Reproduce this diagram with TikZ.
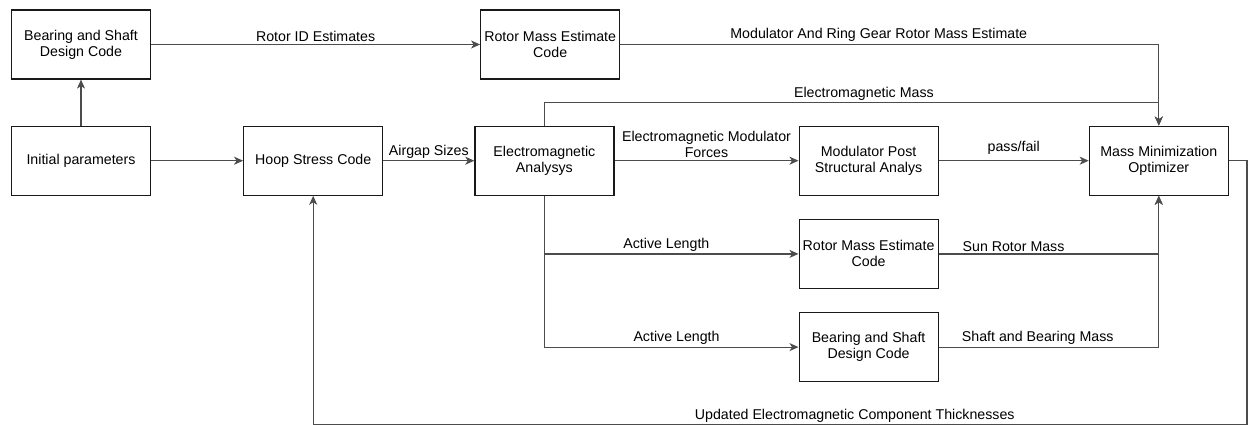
\documentclass[tikz,border=0pt]{standalone}
\usepackage{fontspec}
\setmainfont{Liberation Sans}
\usetikzlibrary{arrows.meta,positioning}

\begin{document}
\begin{tikzpicture}[
  x=1pt, y=1pt,
  font=\fontsize{14.2}{16}\selectfont,
  block/.style={draw=black!90, line width=1.2pt, align=center,
    minimum width=139pt, minimum height=69pt, inner sep=2pt},
  flow/.style={-{Stealth[length=9pt,width=8pt,inset=2.5pt]}, line width=1.2pt, draw=black!70},
  lbl/.style={above, align=center, inner sep=2pt},
]
  \useasboundingbox (0,0) rectangle (1248,-425);
  \node[block] (shafttop) at (81,-44.5) {Bearing and Shaft\\Design Code};
  \node[block, below=46pt of shafttop] (init) {Initial parameters};
  \node[block, right=92pt of init] (hoop) {Hoop Stress Code};
  \node[block, right=91pt of hoop] (emag) {Electromagnetic\\Analysys};
  \node[block, right=184pt of emag] (modpost) {Modulator Post\\Structural Analys};
  \node[block, right=150pt of modpost] (optim) {Mass Minimization\\Optimizer};
  \node[block, right=329pt of shafttop] (rotortop) {Rotor Mass Estimate\\Code};
  \node[block, below=23pt of modpost] (rotorsun) {Rotor Mass Estimate\\Code};
  \node[block, below=23pt of rotorsun] (shaftbot) {Bearing and Shaft\\Design Code};

  \draw[flow] (init) -- (shafttop);
  \draw[flow] (init) -- (hoop);
  \draw[flow] (shafttop) -- node[lbl]{Rotor ID Estimates} (rotortop);
  \draw[flow] (rotortop.east) -| node[lbl, pos=0.24]{Modulator And Ring Gear Rotor Mass Estimate} (optim.north);
  \draw[flow] (hoop) -- node[lbl]{Airgap Sizes} (emag);
  \draw[flow] (emag.north) -- ++(0,23) -| node[lbl, pos=0.26]{Electromagnetic Mass} (optim.north);
  \draw[flow] (emag) -- node[lbl]{Electromagnetic Modulator\\Forces} (modpost);
  \draw[flow] (modpost) -- node[lbl, yshift=4pt]{pass/fail} (optim);
  \draw[flow] (emag.south) |- node[lbl, pos=0.74]{Active Length} (rotorsun.west);
  \draw[flow] (emag.south) |- node[lbl, pos=0.76]{Active Length} (shaftbot.west);
  \draw[flow] (rotorsun.east) -| node[lbl, pos=0.17]{Sun Rotor Mass} (optim.south);
  \draw[flow] (shaftbot.east) -| node[lbl, pos=0.225]{Shaft and Bearing Mass} (optim.south);
  \draw[flow] (optim.east) -| ++(18,-264) -| node[lbl, pos=0.21]{Updated Electromagnetic Component Thicknesses} (hoop.south);
\end{tikzpicture}
\end{document}
